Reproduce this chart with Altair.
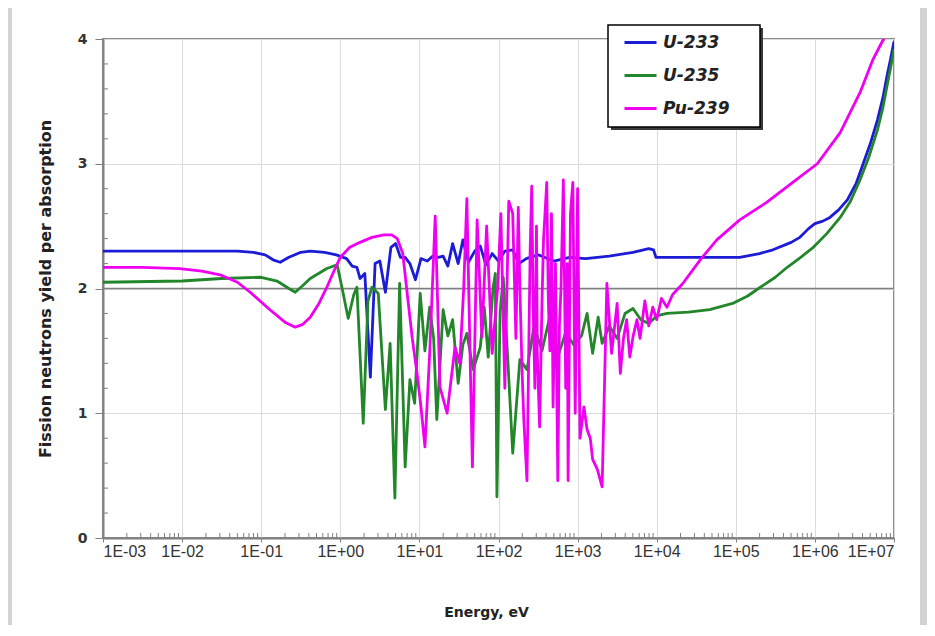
import altair as alt
import pandas as pd

# ---------------- data (log10 of energy in eV, yield) ----------------
series_names = ["U-233", "U-235", "Pu-239"]
series_colors = ["#1c1cd6", "#23862a", "#f000f0"]

u233_logE = [-3.00, -2.00, -1.30, -1.10, -0.95, -0.85, -0.76, -0.65, -0.50, -0.38, -0.20, -0.05,
             0.08, 0.15, 0.21, 0.25, 0.31, 0.38, 0.44, 0.50, 0.57, 0.64, 0.70, 0.76, 0.82, 0.88,
             0.95, 1.02, 1.10, 1.17, 1.24, 1.30, 1.36, 1.42, 1.49, 1.55, 1.62, 1.70, 1.77, 1.84,
             1.92, 2.00, 2.08, 2.18, 2.26, 2.35, 2.50, 2.70, 2.90, 3.10, 3.40, 3.70, 3.90, 3.96,
             3.99, 4.50, 5.05, 5.30, 5.47, 5.70, 5.81, 5.92, 6.00, 6.10, 6.19, 6.30, 6.41, 6.52,
             6.61, 6.70, 6.79, 6.86, 6.91, 6.96, 7.00]
u233_val = [2.30, 2.30, 2.30, 2.29, 2.27, 2.23, 2.21, 2.25, 2.29, 2.30, 2.29, 2.27,
            2.24, 2.18, 2.17, 2.08, 2.12, 1.29, 2.20, 2.22, 1.97, 2.33, 2.36, 2.25, 2.25, 2.20,
            2.07, 2.24, 2.22, 2.26, 2.25, 2.26, 2.18, 2.36, 2.20, 2.39, 2.21, 2.30, 2.34, 2.19,
            2.28, 2.22, 2.30, 2.31, 2.20, 2.24, 2.27, 2.22, 2.25, 2.24, 2.26, 2.29, 2.32, 2.31,
            2.25, 2.25, 2.25, 2.28, 2.31, 2.37, 2.41, 2.48, 2.52, 2.54, 2.57, 2.63, 2.71, 2.84,
            3.00, 3.16, 3.35, 3.53, 3.70, 3.85, 3.98]

u235_logE = [-3.00, -2.00, -1.50, -1.00, -0.80, -0.65, -0.57, -0.48, -0.38, -0.17, -0.04, 0.03,
             0.10, 0.17, 0.21, 0.29, 0.35, 0.40, 0.48, 0.57, 0.63, 0.69, 0.75, 0.82, 0.88, 0.94,
             1.01, 1.07, 1.13, 1.18, 1.22, 1.30, 1.36, 1.42, 1.49, 1.55, 1.60, 1.68, 1.77, 1.82,
             1.87, 1.93, 1.96, 1.98, 2.02, 2.06, 2.12, 2.18, 2.27, 2.36, 2.45, 2.55, 2.65, 2.75,
             2.85, 2.95, 3.05, 3.12, 3.19, 3.26, 3.31, 3.40, 3.50, 3.60, 3.70, 3.80, 3.90, 4.00,
             4.13, 4.40, 4.67, 4.96, 5.15, 5.31, 5.50, 5.65, 5.82, 5.98, 6.15, 6.32, 6.45, 6.57,
             6.68, 6.79, 6.86, 6.91, 6.96, 7.00]
u235_val = [2.05, 2.06, 2.08, 2.09, 2.06, 2.00, 1.97, 2.02, 2.08, 2.16, 2.19, 1.98,
            1.76, 1.95, 2.01, 0.92, 1.90, 2.01, 1.96, 1.03, 1.56, 0.32, 2.04, 0.57, 1.27, 1.08,
            1.96, 1.50, 1.85, 1.60, 0.95, 1.83, 1.62, 1.75, 1.24, 1.55, 1.64, 1.35, 1.53, 1.85,
            1.45, 2.00, 2.12, 0.33, 1.80, 2.09, 1.40, 0.68, 1.43, 1.35, 1.70, 1.50, 1.78, 1.45,
            1.65, 1.55, 1.62, 1.80, 1.48, 1.77, 1.56, 1.70, 1.60, 1.80, 1.84, 1.75, 1.72, 1.78,
            1.80, 1.81, 1.83, 1.88, 1.94, 2.01, 2.09, 2.17, 2.25, 2.33, 2.44, 2.57, 2.70, 2.87,
            3.05, 3.27, 3.45, 3.62, 3.78, 3.92]

pu239_logE = [-3.00, -2.50, -2.03, -1.75, -1.52, -1.30, -1.14, -0.89, -0.70, -0.57, -0.48, -0.38,
              -0.27, -0.17, -0.08, 0.00, 0.12, 0.25, 0.40, 0.55, 0.65, 0.72, 0.79, 0.86, 0.91,
              0.97, 1.02, 1.07, 1.13, 1.17, 1.20, 1.26, 1.35, 1.45, 1.51, 1.56, 1.60, 1.67, 1.73,
              1.79, 1.85, 1.92, 1.99, 2.03, 2.08, 2.13, 2.18, 2.22, 2.25, 2.27, 2.30, 2.32, 2.36,
              2.40, 2.42, 2.44, 2.46, 2.48, 2.49, 2.52, 2.55, 2.57, 2.61, 2.63, 2.65, 2.67, 2.69,
              2.72, 2.75, 2.77, 2.79, 2.82, 2.85, 2.87, 2.88, 2.91, 2.94, 2.96, 2.97, 3.00, 3.03,
              3.08, 3.12, 3.16, 3.19, 3.25, 3.31, 3.37, 3.43, 3.50, 3.54, 3.58, 3.62, 3.66, 3.70,
              3.75, 3.79, 3.85, 3.90, 3.95, 4.00, 4.06, 4.13, 4.20, 4.33, 4.55, 4.76, 5.05, 5.39,
              5.72, 6.03, 6.32, 6.57, 6.73, 6.86, 6.88]
pu239_val = [2.17, 2.17, 2.16, 2.14, 2.11, 2.05, 1.97, 1.83, 1.73, 1.69, 1.71, 1.77,
             1.88, 2.01, 2.14, 2.25, 2.33, 2.37, 2.41, 2.43, 2.43, 2.40, 2.28, 1.88, 1.60,
             1.32, 1.05, 0.73, 1.48, 2.10, 2.58, 1.21, 1.00, 1.53, 1.40, 2.00, 2.72, 0.57, 2.55,
             1.61, 2.50, 1.48, 2.01, 2.60, 1.20, 2.70, 2.60, 1.60, 2.65, 2.00, 1.30, 0.95, 0.46,
             2.30, 2.82, 1.80, 1.20, 2.50, 1.48, 0.89, 1.90, 2.40, 2.85, 1.90, 1.50, 2.60, 1.05,
             2.20, 0.46, 1.70, 2.00, 2.87, 1.20, 2.20, 0.46, 2.60, 2.85, 1.60, 1.00, 2.80, 0.80,
             1.05, 0.87, 0.80, 0.63, 0.55, 0.41, 2.04, 1.48, 1.88, 1.32, 1.60, 1.75, 1.45, 1.61,
             1.75, 1.60, 1.90, 1.70, 1.85, 1.75, 1.92, 1.85, 1.95, 2.04, 2.23, 2.39, 2.55, 2.69,
             2.85, 3.00, 3.25, 3.57, 3.83, 3.99, 4.00]

x_tick_exponents = [-3, -2, -1, 0, 1, 2, 3, 4, 5, 6, 7]
y_ticks = [0, 1, 2, 3, 4]
y_minor = [0.2, 0.4, 0.6, 0.8, 1.2, 1.4, 1.6, 1.8, 2.2, 2.4, 2.6, 2.8, 3.2, 3.4, 3.6, 3.8]
minor_mult = [2, 3, 4, 5, 6, 7, 8, 9]

# ---------------- tables ----------------
rows = []
for name, xs, vs in [("U-233", u233_logE, u233_val),
                     ("U-235", u235_logE, u235_val),
                     ("Pu-239", pu239_logE, pu239_val)]:
    for lx, v in zip(xs, vs):
        rows.append({"series": name, "E": 10 ** lx, "v": v})
df = pd.DataFrame(rows)

x_ticks = [10.0 ** e for e in x_tick_exponents]
x_minor = pd.DataFrame({"E": [m * 10.0 ** e for e in x_tick_exponents[:-1] for m in minor_mult]})
y_minor_df = pd.DataFrame({"v": y_minor})
two_df = pd.DataFrame({"v": [2]})

W, H = 791, 499

label_expr = ("'1E' + (round(log(datum.value)/LN10) < 0 ? '-' : '+') + "
              "(abs(round(log(datum.value)/LN10)) < 10 ? '0' : '') + abs(round(log(datum.value)/LN10))")

x_enc = alt.X("E:Q",
              scale=alt.Scale(type="log", domain=[1e-3, 1e7]),
              axis=alt.Axis(values=x_ticks, labelExpr=label_expr, title="Energy, eV",
                            grid=True, gridColor="#dadada", gridWidth=1,
                            domainColor="#808080", domainWidth=2,
                            tickColor="#808080", tickSize=4, tickWidth=1,
                            labelFont="Liberation Sans", labelFontSize=16,
                            labelColor="#333333", labelPadding=1,
                            titleFont="DejaVu Sans", titleFontSize=14, titleFontWeight="bold",
                            titleColor="#222222", titlePadding=46,
                            titleX=383, titleAlign="center"))
y_enc = alt.Y("v:Q",
              scale=alt.Scale(domain=[0, 4], nice=False, zero=True),
              axis=alt.Axis(values=y_ticks, format="d",
                            title="Fission neutrons yield per absorption",
                            grid=True, gridColor="#dadada", gridWidth=1,
                            domainColor="#808080", domainWidth=2,
                            tickColor="#808080", tickSize=8, tickWidth=1,
                            labelFont="DejaVu Sans", labelFontSize=14, labelFontWeight="bold",
                            labelColor="#333333", labelPadding=8,
                            titleFont="DejaVu Sans", titleFontSize=16, titleFontWeight="bold",
                            titleColor="#222222", titlePadding=24))

color_enc = alt.Color("series:N",
                      scale=alt.Scale(domain=series_names, range=series_colors),
                      legend=alt.Legend(title=None, orient="none", legendX=505, legendY=-14,
                                        symbolType="M-0.125,0H3.875", symbolSize=256,
                                        symbolStrokeWidth=3,
                                        labelFont="DejaVu Sans", labelFontSize=17,
                                        labelFontWeight="bold", labelFontStyle="italic",
                                        labelColor="#222222", labelOffset=28,
                                        rowPadding=15, padding=8,
                                        strokeColor="transparent", fillColor="transparent"))

# decorative frame strips (gray border of the picture) and legend box with shadow
left_strip = alt.Chart(two_df).mark_rect(color="#d3d3d3").encode(
    x=alt.value(-95), x2=alt.value(-91), y=alt.value(-31), y2=alt.value(600))
right_strip = alt.Chart(two_df).mark_rect(color="#d3d3d3").encode(
    x=alt.value(817), x2=alt.value(840), y=alt.value(-31), y2=alt.value(600))
shadow = alt.Chart(two_df).mark_rect(color="#3a3a3a").encode(
    x=alt.value(508), x2=alt.value(660), y=alt.value(-11), y2=alt.value(91))
legend_box = alt.Chart(two_df).mark_rect(fill="#ffffff", stroke="#000000", strokeWidth=1.5).encode(
    x=alt.value(505), x2=alt.value(657), y=alt.value(-14), y2=alt.value(88))

x_minor_ticks = alt.Chart(x_minor).mark_rule(color="#808080", strokeWidth=1).encode(
    x="E:Q", y=alt.value(H), y2=alt.value(H - 5))
y_minor_ticks = alt.Chart(y_minor_df).mark_rule(color="#808080", strokeWidth=1).encode(
    y="v:Q", x=alt.value(0), x2=alt.value(5))
two_rule = alt.Chart(two_df).mark_rule(color="#808080", strokeWidth=1.6).encode(y="v:Q")

line_layers = []
for name in series_names:
    line_layers.append(
        alt.Chart(df).transform_filter(alt.datum.series == name)
        .mark_line(strokeWidth=2.8, clip=True, strokeJoin="round")
        .encode(x=x_enc, y=y_enc, color=color_enc)
    )

chart = alt.layer(left_strip, right_strip, x_minor_ticks, y_minor_ticks, two_rule,
                  *line_layers, shadow, legend_box).properties(
    width=W, height=H,
    autosize=alt.AutoSizeParams(type="none"),
    padding={"left": 95, "top": 31, "right": 33, "bottom": 87},
    background="#ffffff",
).configure_view(stroke="#8c8c8c", strokeWidth=2)

chart.save("out.html", embed_options={"renderer": "svg", "actions": False})
